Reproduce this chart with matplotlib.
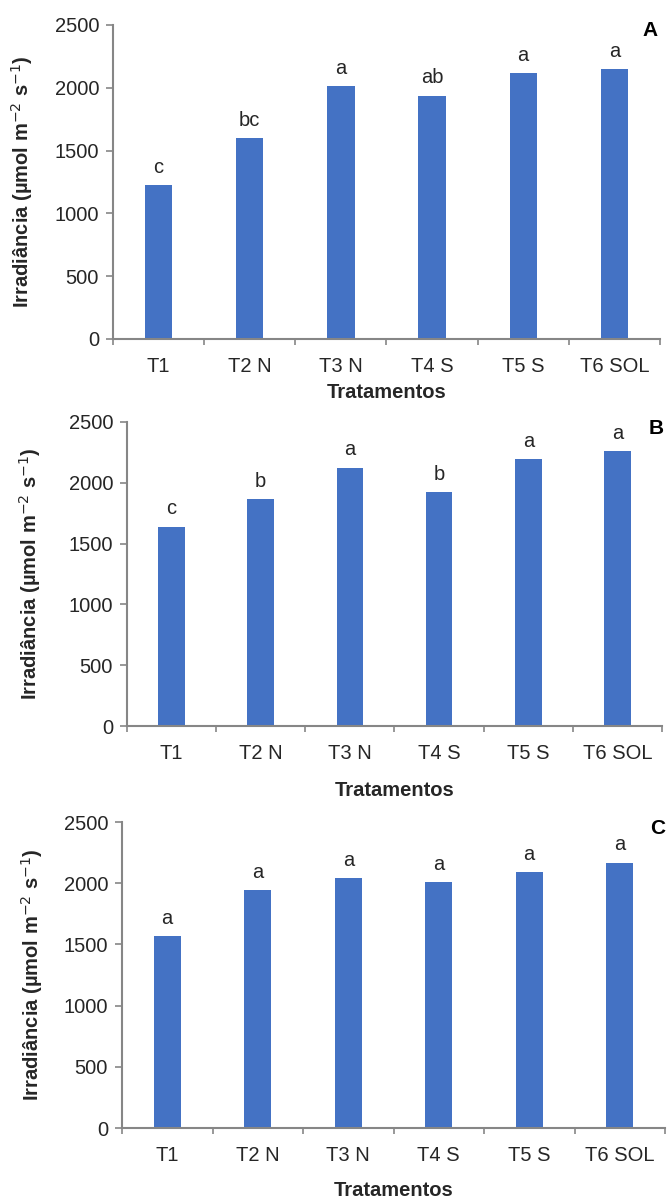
import matplotlib
matplotlib.use("Agg")
import matplotlib.pyplot as plt
import numpy as np

plt.rcParams['font.family'] = ['Liberation Sans', 'DejaVu Sans']

tratamentos = ["T1", "T2 N", "T3 N", "T4 S", "T5 S", "T6 SOL"]

irr_a = [1223, 1598, 2011, 1936, 2117, 2149]
letras_a = ["c", "bc", "a", "ab", "a", "a"]

irr_b = [1637, 1865, 2125, 1922, 2193, 2259]
letras_b = ["c", "b", "a", "b", "a", "a"]

irr_c = [1568, 1943, 2041, 2008, 2090, 2168]
letras_c = ["a", "a", "a", "a", "a", "a"]

W, H = 667, 1200
fig = plt.figure(figsize=(W / 100, H / 100), dpi=100)

bar_col = "#4472C4"
axis_col = "#868686"
txt_col = "#262626"

# (left, right, top, bottom) in pixels, panel letter position, xlabel y, ylabel x
paineis = [
    (irr_a, letras_a, "A", (113, 660, 25, 339), (650, 30), 393, 22),
    (irr_b, letras_b, "B", (127, 662, 422, 726), (656, 428), 790, 30),
    (irr_c, letras_c, "C", (122, 665, 822, 1128), (658, 828), 1190, 32),
]

x = np.arange(len(tratamentos))

for vals, letras, nome, (l, r, t, b), (lx, ly), xl_y, yl_x in paineis:
    ax = fig.add_axes([l / W, 1 - b / H, (r - l) / W, (b - t) / H])
    ax.bar(x, vals, width=0.3, color=bar_col, zorder=2)
    ax.set_xlim(-0.5, len(tratamentos) - 0.5)
    ax.set_ylim(0, 2500)
    ax.set_yticks([0, 500, 1000, 1500, 2000, 2500])
    ax.set_xticks(x)
    ax.set_xticklabels(tratamentos)
    ax.set_xticks(np.arange(-0.5, len(tratamentos)), minor=True)
    ax.tick_params(axis="x", which="major", length=0, pad=13, labelsize=14.5, labelcolor=txt_col)
    ax.tick_params(axis="x", which="minor", length=4, width=1.2, color=axis_col, direction="out")
    ax.tick_params(axis="y", length=5, width=1.2, color=axis_col, pad=5, labelsize=14.5, labelcolor=txt_col)
    for s in ["top", "right"]:
        ax.spines[s].set_visible(False)
    for s in ["left", "bottom"]:
        ax.spines[s].set_color(axis_col)
        ax.spines[s].set_linewidth(1.5)

    for xi, v, lt in zip(x, vals, letras):
        ax.annotate(lt, (xi, v), xytext=(0, 9), textcoords="offset points",
                    ha="center", va="baseline", fontsize=14.5, color=txt_col)

    fig.text(lx / W, 1 - ly / H, nome, ha="center", va="center",
             fontsize=15, fontweight="bold", color="black")
    fig.text((l + r) / 2 / W, 1 - xl_y / H, "Tratamentos", ha="center", va="center",
             fontsize=14.5, fontweight="bold", color=txt_col)
    fig.text(yl_x / W, 1 - (t + b) / 2 / H, "Irradiância (µmol m$^{-2}$ s$^{-1}$)",
             rotation=90, ha="center", va="center", fontsize=14.5,
             fontweight="bold", color=txt_col)

fig.savefig("out.png", dpi=100)
